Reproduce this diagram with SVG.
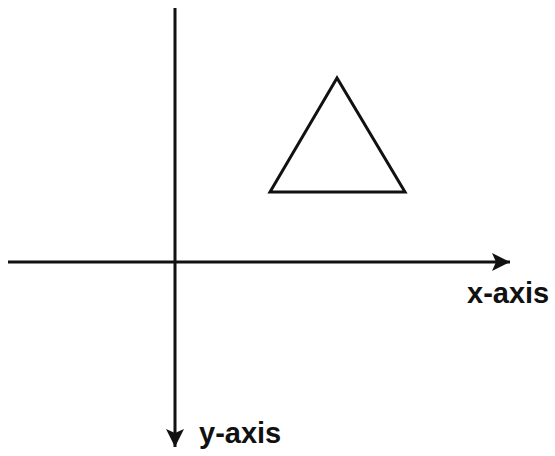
<svg xmlns="http://www.w3.org/2000/svg" width="555" height="456" viewBox="0 0 555 456">
<style>
.ax{stroke:#111;stroke-width:3;fill:none}
.lbl{font-family:"Liberation Sans",Arial,sans-serif;font-weight:bold;font-size:29px;fill:#111}
</style>
<defs>
<marker id="ah" markerUnits="userSpaceOnUse" markerWidth="20" markerHeight="18" refX="18" refY="9" orient="auto">
<path d="M0,0 L18,9 L0,18 L4,9 Z" fill="#111"/>
</marker>
</defs>
<rect width="555" height="456" fill="#fff"/>
<g id="connectors">
<line class="ax" x1="8" y1="262" x2="510" y2="262" marker-end="url(#ah)"/>
<line class="ax" x1="175" y1="8" x2="175" y2="447" marker-end="url(#ah)"/>
</g>
<g id="triangle">
<polygon points="337,78 270,192 405,192" fill="#fff" stroke="#111" stroke-width="3" stroke-linejoin="miter"/>
</g>
<g id="x-label"><text class="lbl" x="467" y="303">x-axis</text></g>
<g id="y-label"><text class="lbl" x="199" y="443">y-axis</text></g>
</svg>
